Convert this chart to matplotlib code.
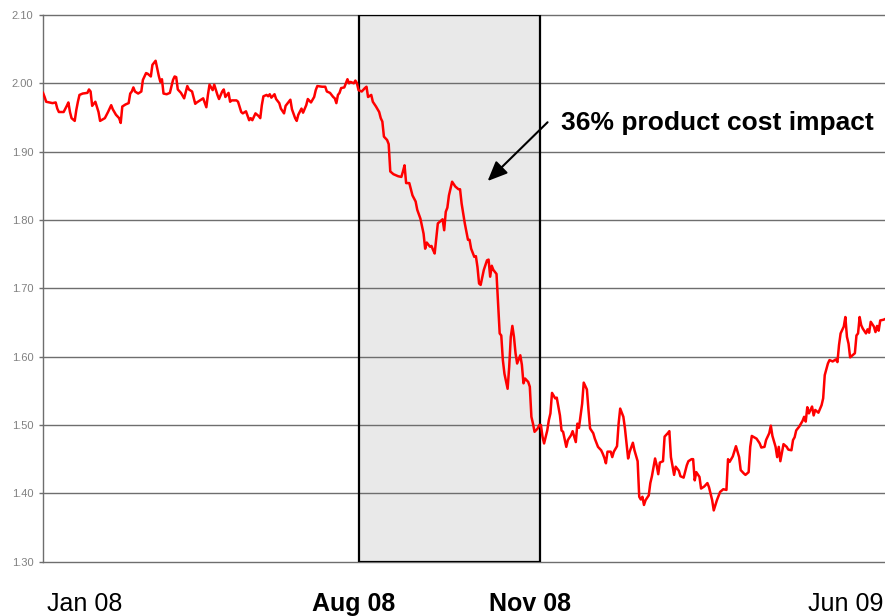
import matplotlib
matplotlib.use("Agg")
import matplotlib.pyplot as plt
from matplotlib.patches import Rectangle

plt.rcParams['font.family'] = ['Liberation Sans', 'DejaVu Sans']

# days since 2 Jan 2008 and the daily price
days = [0, 1, 2, 4, 6, 8, 9, 10, 12, 13,
        15, 16, 17, 18, 20, 21, 22, 23, 25, 28,
        29, 30, 31, 32, 33, 35, 36, 39, 41, 43,
        44, 46, 48, 49, 50, 52, 54, 55, 56, 57,
        58, 60, 62, 63, 65, 66, 68, 69, 71, 72,
        73, 74, 75, 76, 78, 80, 82, 83, 84, 85,
        87, 89, 91, 92, 94, 96, 97, 99, 101, 103,
        104, 105, 107, 108, 110, 111, 113, 114, 115, 117,
        118, 119, 122, 123, 125, 126, 128, 130, 131, 132,
        134, 136, 137, 138, 139, 141, 142, 143, 144, 146,
        147, 149, 150, 152, 153, 155, 156, 157, 159, 160,
        161, 163, 164, 166, 167, 169, 171, 172, 173, 176,
        178, 179, 181, 183, 184, 185, 186, 187, 188, 190,
        191, 192, 193, 194, 196, 197, 198, 199, 201, 203,
        204, 205, 207, 208, 210, 212, 213, 214, 215, 217,
        218, 219, 221, 224, 226, 227, 228, 229, 231, 233,
        235, 236, 238, 240, 241, 242, 244, 245, 246, 247,
        249, 250, 252, 253, 254, 255, 256, 258, 260, 262,
        263, 264, 266, 268, 269, 270, 272, 273, 274, 275,
        276, 278, 280, 281, 282, 283, 284, 286, 287, 288,
        289, 290, 291, 293, 294, 295, 296, 297, 298, 299,
        301, 302, 303, 304, 306, 307, 308, 309, 310, 312,
        313, 314, 315, 316, 318, 319, 320, 321, 323, 324,
        326, 327, 328, 330, 331, 333, 334, 336, 337, 338,
        339, 340, 341, 343, 344, 345, 347, 348, 350, 352,
        353, 354, 355, 356, 358, 359, 360, 362, 363, 364,
        366, 367, 369, 370, 372, 373, 375, 376, 377, 378,
        379, 380, 382, 383, 384, 386, 387, 388, 389, 391,
        392, 394, 395, 396, 398, 399, 401, 402, 404, 406,
        407, 409, 410, 411, 412, 414, 415, 417, 419, 420,
        422, 423, 425, 427, 429, 431, 432, 433, 435, 437,
        439, 440, 442, 443, 445, 446, 447, 450, 452, 453,
        455, 456, 458, 459, 460, 462, 463, 464, 465, 467,
        469, 470, 472, 473, 474, 475, 477, 479, 480, 481,
        482, 483, 485, 486, 487, 489, 491, 492, 493, 495,
        496, 498, 500, 501, 502, 503, 505, 506, 507, 508,
        509, 510, 512, 513, 514, 515, 516, 517, 519, 520,
        521, 522, 524, 525, 526, 527, 528, 530, 531]

price = [1.986, 1.980, 1.973, 1.972, 1.971, 1.972, 1.963, 1.958, 1.958, 1.958,
         1.967, 1.972, 1.958, 1.949, 1.945, 1.961, 1.973, 1.983, 1.985, 1.986,
         1.991, 1.988, 1.967, 1.970, 1.973, 1.958, 1.945, 1.949, 1.958, 1.968,
         1.962, 1.954, 1.949, 1.942, 1.966, 1.969, 1.971, 1.985, 1.988, 1.994,
         1.988, 1.985, 1.988, 2.005, 2.015, 2.014, 2.010, 2.027, 2.033, 2.022,
         2.011, 2.002, 2.006, 1.985, 1.984, 1.986, 2.005, 2.010, 2.009, 1.991,
         1.986, 1.978, 1.996, 1.991, 1.988, 1.970, 1.972, 1.975, 1.978, 1.965,
         1.983, 1.998, 1.990, 1.998, 1.983, 1.977, 1.988, 1.991, 1.980, 1.986,
         1.973, 1.975, 1.975, 1.973, 1.958, 1.956, 1.959, 1.946, 1.949, 1.946,
         1.956, 1.952, 1.949, 1.968, 1.981, 1.983, 1.981, 1.984, 1.979, 1.984,
         1.977, 1.971, 1.963, 1.956, 1.967, 1.973, 1.976, 1.962, 1.949, 1.945,
         1.954, 1.963, 1.957, 1.968, 1.977, 1.972, 1.980, 1.990, 1.996, 1.995,
         1.995, 1.988, 1.986, 1.980, 1.978, 1.971, 1.983, 1.986, 1.993, 1.994,
         2.000, 2.006, 2.000, 2.002, 2.000, 2.004, 2.000, 1.990, 1.988, 1.993,
         1.995, 1.980, 1.983, 1.973, 1.966, 1.958, 1.949, 1.944, 1.922, 1.917,
         1.911, 1.871, 1.867, 1.864, 1.863, 1.871, 1.880, 1.854, 1.854, 1.836,
         1.827, 1.815, 1.802, 1.780, 1.758, 1.767, 1.761, 1.762, 1.756, 1.751,
         1.795, 1.797, 1.801, 1.785, 1.812, 1.818, 1.836, 1.856, 1.849, 1.845,
         1.845, 1.824, 1.795, 1.771, 1.771, 1.758, 1.746, 1.747, 1.731, 1.707,
         1.705, 1.727, 1.741, 1.742, 1.717, 1.733, 1.727, 1.721, 1.678, 1.634,
         1.631, 1.595, 1.575, 1.553, 1.585, 1.629, 1.645, 1.629, 1.605, 1.590,
         1.602, 1.588, 1.561, 1.568, 1.563, 1.556, 1.512, 1.502, 1.490, 1.495,
         1.500, 1.500, 1.483, 1.473, 1.492, 1.507, 1.517, 1.547, 1.539, 1.540,
         1.514, 1.492, 1.490, 1.468, 1.478, 1.485, 1.491, 1.475, 1.502, 1.496,
         1.514, 1.531, 1.562, 1.552, 1.522, 1.495, 1.488, 1.480, 1.468, 1.463,
         1.458, 1.452, 1.444, 1.461, 1.461, 1.453, 1.461, 1.469, 1.502, 1.524,
         1.512, 1.495, 1.451, 1.461, 1.474, 1.463, 1.447, 1.395, 1.391, 1.395,
         1.383, 1.390, 1.397, 1.415, 1.425, 1.451, 1.441, 1.428, 1.445, 1.447,
         1.483, 1.488, 1.491, 1.453, 1.427, 1.439, 1.433, 1.425, 1.423, 1.441,
         1.447, 1.450, 1.450, 1.419, 1.431, 1.424, 1.407, 1.410, 1.415, 1.409,
         1.390, 1.375, 1.390, 1.402, 1.406, 1.405, 1.450, 1.446, 1.454, 1.469,
         1.453, 1.434, 1.429, 1.427, 1.431, 1.468, 1.484, 1.480, 1.473, 1.467,
         1.468, 1.478, 1.488, 1.499, 1.484, 1.468, 1.453, 1.468, 1.447, 1.472,
         1.468, 1.464, 1.463, 1.478, 1.482, 1.492, 1.498, 1.506, 1.512, 1.505,
         1.526, 1.517, 1.527, 1.514, 1.522, 1.518, 1.529, 1.539, 1.573, 1.590,
         1.595, 1.593, 1.596, 1.592, 1.617, 1.634, 1.644, 1.658, 1.629, 1.619,
         1.599, 1.601, 1.605, 1.631, 1.634, 1.658, 1.646, 1.641, 1.634, 1.640,
         1.635, 1.651, 1.644, 1.636, 1.645, 1.638, 1.653, 1.654, 1.655]

month_pos = [26, 196, 307, 506]
month_labels = ["Jan 08", "Aug 08", "Nov 08", "Jun 09"]
bold_months = ["Aug 08", "Nov 08"]

# highlighted period (days)
period_start, period_end = 199, 313.6
y_ticks = [1.30, 1.40, 1.50, 1.60, 1.70, 1.80, 1.90, 2.00, 2.10]
note = "36% product cost impact"

grid_col = "#6e6e6e"

fig = plt.figure(figsize=(8.85, 6.16), dpi=100)
ax = fig.add_axes([0.0486, 0.0882, 0.9514, 0.8875])

ax.set_xlim(0, 531)
ax.set_ylim(1.30, 2.10)

# shaded period behind the grid, outline above it
ax.add_patch(Rectangle((period_start, 1.30), period_end - period_start, 0.80,
                       facecolor="#e9e9e9", edgecolor="none", zorder=0.5))
for y in y_ticks:
    ax.axhline(y, color=grid_col, lw=1.0, zorder=1, clip_on=False)
ax.add_patch(Rectangle((period_start, 1.30), period_end - period_start, 0.80,
                       facecolor="none", edgecolor="black", lw=1.6, zorder=1.5))

ax.plot(days, price, color="#ff0000", lw=1.8, zorder=3, solid_joinstyle="round")

# annotation
ax.annotate("", xy=(280.4, 1.857), xytext=(318.2, 1.943),
            arrowprops=dict(arrowstyle="-|>,head_length=0.6,head_width=0.26",
                            color="black", lw=1.5, mutation_scale=20,
                            shrinkA=0, shrinkB=0), zorder=4)
ax.text(326.7, 1.932, note, fontsize=19, fontweight="bold", ha="left",
        va="baseline", zorder=4)

# axes styling
for side in ["top", "right", "bottom"]:
    ax.spines[side].set_visible(False)
ax.spines["left"].set_color(grid_col)
ax.spines["left"].set_linewidth(1.0)

ax.set_yticks(y_ticks)
ax.set_yticklabels([f"{v:.2f}" for v in y_ticks])
ax.tick_params(axis="y", direction="out", length=3, width=1.0, color=grid_col,
               labelcolor="#808080", labelsize=8, pad=4)

ax.set_xticks(month_pos)
ax.set_xticklabels(month_labels)
ax.tick_params(axis="x", length=0, labelsize=18, pad=22, labelcolor="black")
for lbl in ax.get_xticklabels():
    if lbl.get_text() in bold_months:
        lbl.set_fontweight("bold")

fig.savefig("out.png", dpi=100)
